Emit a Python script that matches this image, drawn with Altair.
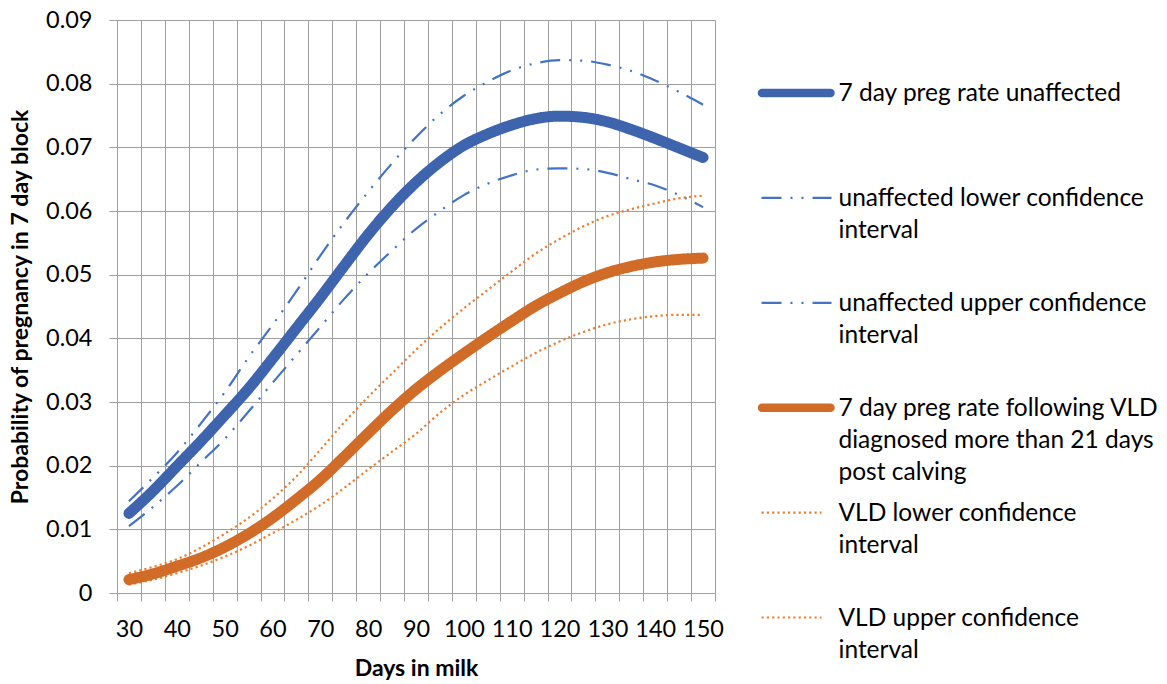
import altair as alt
import pandas as pd

# ---------------- data ----------------
days = [30, 35, 40, 45, 50, 55, 60, 65, 70, 75, 80, 85, 90,
        95, 100, 105, 110, 115, 120, 125, 130, 135, 140, 145, 150]

unaffected = [0.0125, 0.0160, 0.0199, 0.0238, 0.0279, 0.0321, 0.0368, 0.0416, 0.0464,
              0.0514, 0.0563, 0.0607, 0.0645, 0.0677, 0.0703, 0.0721, 0.0735, 0.0745,
              0.0749, 0.0747, 0.0740, 0.0728, 0.0714, 0.0699, 0.0684]
unaffected_lower = [0.0105, 0.0135, 0.0168, 0.0205, 0.0242, 0.0285, 0.0330, 0.0374, 0.0418,
                    0.0462, 0.0502, 0.0538, 0.0572, 0.0600, 0.0625, 0.0643, 0.0656, 0.0665,
                    0.0667, 0.0666, 0.0660, 0.0650, 0.0640, 0.0625, 0.0606]
unaffected_upper = [0.0144, 0.0181, 0.0220, 0.0266, 0.0315, 0.0370, 0.0421, 0.0474, 0.0530,
                    0.0582, 0.0630, 0.0675, 0.0716, 0.0752, 0.0781, 0.0803, 0.0821, 0.0832,
                    0.0837, 0.0836, 0.0830, 0.0820, 0.0805, 0.0787, 0.0767]
vld = [0.0021, 0.0030, 0.0042, 0.0055, 0.0072, 0.0093, 0.0118, 0.0147, 0.0178,
       0.0214, 0.0251, 0.0287, 0.0320, 0.0349, 0.0376, 0.0402, 0.0427, 0.0451,
       0.0471, 0.0489, 0.0503, 0.0513, 0.0520, 0.0524, 0.0526]
vld_lower = [0.0013, 0.0021, 0.0031, 0.0043, 0.0057, 0.0074, 0.0094, 0.0115, 0.0138,
             0.0165, 0.0194, 0.0222, 0.0250, 0.0283, 0.0311, 0.0334, 0.0356, 0.0377,
             0.0395, 0.0410, 0.0422, 0.0430, 0.0435, 0.0437, 0.0437]
vld_upper = [0.0031, 0.0041, 0.0053, 0.0071, 0.0093, 0.0118, 0.0148, 0.0183, 0.0225,
             0.0268, 0.0308, 0.0345, 0.0382, 0.0416, 0.0447, 0.0476, 0.0505, 0.0533,
             0.0556, 0.0576, 0.0592, 0.0603, 0.0612, 0.0620, 0.0624]

series_names = [
    "7 day preg rate unaffected",
    "unaffected lower confidence interval",
    "unaffected upper confidence interval",
    "7 day preg rate following VLD diagnosed more than 21 days post calving",
    "VLD lower confidence interval",
    "VLD upper confidence interval",
]
series_values = [unaffected, unaffected_lower, unaffected_upper, vld, vld_lower, vld_upper]
series_style = ["main", "dashdot", "dashdot", "main", "dot", "dot"]
legend_lines = [
    ["7 day preg rate unaffected"],
    ["unaffected lower confidence", "interval"],
    ["unaffected upper confidence", "interval"],
    ["7 day preg rate following VLD", "diagnosed more than 21 days", "post calving"],
    ["VLD lower confidence", "interval"],
    ["VLD upper confidence", "interval"],
]

y_ticks = [0, 0.01, 0.02, 0.03, 0.04, 0.05, 0.06, 0.07, 0.08, 0.09]
x_labels = [30, 40, 50, 60, 70, 80, 90, 100, 110, 120, 130, 140, 150]

# ---------------- styles ----------------
series_colors = ["#3E64AE", "#4472C4", "#4472C4", "#D16B28", "#ED7D31", "#ED7D31"]
series_dash = [[1, 0], [20, 9, 2, 9, 2, 9], [20, 9, 2, 9, 2, 9],
               [1, 0], [2.2, 3.1], [2.2, 3.1]]
GRID = "#A0A0A0"
FONT = "Lato"
TEXT = "#000000"

# ---------------- tables ----------------
rows = []
for name, style, vals in zip(series_names, series_style, series_values):
    for d, v in zip(days, vals):
        rows.append({"series": name, "style": style, "day": d, "value": v})
df = pd.DataFrame(rows)

leg_df = pd.DataFrame({
    "series": series_names,
    "style": series_style,
    "label": ["\n".join(l) for l in legend_lines],
})

half = (days[1] - days[0]) / 2
boundaries = [d - half for d in days] + [days[-1] + half]
plot_w, plot_h = 598, 573
cat_px = plot_w / len(days)

label_list = ",".join(str(v) for v in x_labels)
x_axis = alt.Axis(
    values=boundaries, grid=True, gridColor=GRID, gridWidth=1,
    ticks=True, tickSize=8, tickColor=GRID, tickWidth=1,
    domain=True, domainColor=GRID, domainWidth=1,
    labelExpr=f"indexof([{label_list}], datum.value + {half}) >= 0 ? format(datum.value + {half}, 'd') : ''",
    labelOffset=cat_px / 2, labelOverlap=False, labelFlush=False,
    labelFont=FONT, labelFontSize=23.5, labelColor=TEXT, labelPadding=16,
    titleFont=FONT, titleFontSize=23, titleFontWeight="bold", titleColor=TEXT, titlePadding=17,
)
y_axis = alt.Axis(
    values=y_ticks, format=".2~f", grid=True, gridColor=GRID, gridWidth=1,
    ticks=True, tickSize=8, tickColor=GRID, tickWidth=1,
    domain=True, domainColor=GRID, domainWidth=1,
    labelFont=FONT, labelFontSize=23.5, labelColor=TEXT, labelPadding=17,
    titleFont=FONT, titleFontSize=23, titleFontWeight="bold", titleColor=TEXT, titlePadding=13,
)

color_enc = alt.Color("series:N", scale=alt.Scale(domain=series_names, range=series_colors), legend=None)
dash_enc = alt.StrokeDash("series:N", scale=alt.Scale(domain=series_names, range=series_dash), legend=None)

base = alt.Chart(df).encode(
    x=alt.X("day:Q", scale=alt.Scale(domain=[boundaries[0], boundaries[-1]], nice=False, zero=False),
            axis=x_axis, title="Days in milk"),
    y=alt.Y("value:Q", scale=alt.Scale(domain=[y_ticks[0], y_ticks[-1]], nice=False),
            axis=y_axis, title="Probability of pregnancy in 7 day block"),
    color=color_enc,
    strokeDash=dash_enc,
    detail="series:N",
)
ci_lines = base.transform_filter(alt.datum.style != "main").mark_line(
    strokeWidth=2.2, strokeCap="butt", interpolate="monotone")
main_lines = base.transform_filter(alt.datum.style == "main").mark_line(
    strokeWidth=11, strokeCap="round", strokeJoin="round", interpolate="monotone")
plot = alt.layer(ci_lines, main_lines).properties(width=plot_w, height=plot_h)

# ---------------- legend panel ----------------
leg_h = 597.5
leg_base = alt.Chart(leg_df).encode(
    y=alt.Y("series:N", sort=series_names, axis=None,
            scale=alt.Scale(type="point", padding=0.348, align=1)),
)
leg_main = leg_base.transform_filter(alt.datum.style == "main").mark_rule(
    strokeWidth=8.5, strokeCap="round").encode(
    x=alt.value(4.5), x2=alt.value(73), color=color_enc, strokeDash=dash_enc)
leg_dashdot = leg_base.transform_filter(alt.datum.style == "dashdot").mark_rule(
    strokeWidth=2.2).encode(x=alt.value(4), x2=alt.value(74), color=color_enc, strokeDash=dash_enc)
leg_dot = leg_base.transform_filter(alt.datum.style == "dot").mark_rule(
    strokeWidth=2.2).encode(x=alt.value(4), x2=alt.value(64), color=color_enc, strokeDash=dash_enc)
leg_text = leg_base.mark_text(
    align="left", baseline="alphabetic", dy=8, lineBreak="\n", lineHeight=32,
    font=FONT, fontSize=24.5, color=TEXT).encode(x=alt.value(81), text="label:N")
legend_panel = alt.layer(leg_dashdot, leg_dot, leg_main, leg_text).properties(width=402, height=leg_h)

chart = alt.hconcat(plot, legend_panel, spacing=28.5).properties(
    padding={"left": 9, "top": 7, "right": 4, "bottom": 4},
    background="white",
).configure_view(stroke="transparent")

chart.save("out.html", embed_options={"renderer": "svg", "actions": False})
